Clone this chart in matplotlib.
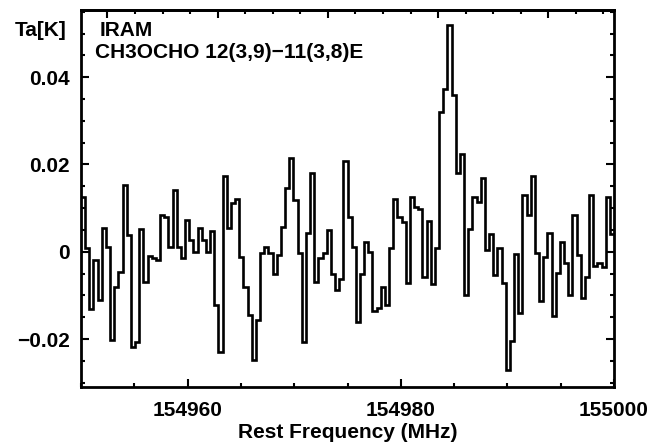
import numpy as np
import matplotlib
matplotlib.use("Agg")
import matplotlib.pyplot as plt
from matplotlib.ticker import MultipleLocator, NullFormatter, FixedFormatter, FixedLocator

# ---------------- data ----------------
freq_start = 154950.0          # MHz, left edge of first channel
chan_width = 0.390625          # MHz
ta_values = [
    0.0126, 0.0008, -0.0132, -0.0018, -0.0110, 0.0054, 0.0011, -0.0203,
    -0.0080, -0.0046, 0.0154, 0.0038, -0.0218, -0.0206, 0.0051, -0.0069,
    -0.0010, -0.0015, -0.0019, 0.0084, 0.0080, 0.0011, 0.0141, 0.0011,
    -0.0015, 0.0073, 0.0027, 0.0000, 0.0054, 0.0027, 0.0000, 0.0047,
    -0.0122, -0.0229, 0.0174, 0.0054, 0.0112, 0.0122, -0.0011, -0.0080,
    -0.0145, -0.0247, -0.0157, -0.0004, 0.0010, -0.0004, -0.0050, -0.0008,
    0.0057, 0.0147, 0.0214, 0.0118, -0.0004, -0.0206, 0.0042, 0.0180,
    -0.0069, -0.0015, -0.0004, 0.0050, -0.0050, -0.0088, -0.0063, 0.0208,
    0.0080, 0.0011, -0.0161, -0.0050, 0.0023, 0.0000, -0.0135, -0.0130,
    -0.0080, -0.0122, 0.0008, 0.0120, 0.0080, 0.0067, -0.0071, 0.0126,
    0.0103, 0.0097, -0.0057, 0.0071, -0.0074, 0.0008, 0.0320, 0.0372,
    0.0520, 0.0359, 0.0181, 0.0223, -0.0099, 0.0051, 0.0125, 0.0115,
    0.0168, 0.0004, 0.0041, -0.0054, 0.0008, -0.0071, -0.0271, -0.0204,
    -0.0005, -0.0140, 0.0131, 0.0084, 0.0174, -0.0004, -0.0112, -0.0011,
    0.0042, -0.0148, -0.0048, 0.0023, -0.0025, -0.0099, 0.0084, -0.0008,
    -0.0107, -0.0059, 0.0130, -0.0033, -0.0025, -0.0036, 0.0125, 0.0041,
]
x_ticks = [154960, 154980, 155000]
x_ticklabels = ["154960", "154980", "155000"]
y_ticks = [-0.02, 0, 0.02, 0.04]
y_ticklabels = ["\u22120.02", "0", "0.02", "0.04"]
xlabel = "Rest Frequency (MHz)"
ylabel = "Ta[K]"
telescope = "IRAM"
line_name = "CH3OCHO 12(3,9)\u221211(3,8)E"
v_ref_freq = 154983.5          # MHz where top (velocity) axis = 0
c_kms = 299792.458

# ---------------- plot ----------------
plt.rcParams['font.family'] = ['Liberation Sans', 'DejaVu Sans']
plt.rcParams['font.weight'] = 'bold'
FS = 15
W, H = 654, 443
fig = plt.figure(figsize=(W / 100, H / 100), dpi=100)
L, R, T, B = 81, 614, 10, 387
ax = fig.add_axes([L / W, 1 - B / H, (R - L) / W, (B - T) / H])

vals = np.array(ta_values)
edges = freq_start + chan_width * np.arange(len(vals) + 1)
ax.stairs(vals, edges, color='black', linewidth=1.9, baseline=None)

ax.set_xlim(154950, 155000)
ax.set_ylim(-0.0310, 0.0554)

ax.xaxis.set_major_locator(FixedLocator(x_ticks))
ax.xaxis.set_major_formatter(FixedFormatter(x_ticklabels))
ax.xaxis.set_minor_locator(MultipleLocator(5))
ax.yaxis.set_major_locator(FixedLocator(y_ticks))
ax.yaxis.set_major_formatter(FixedFormatter(y_ticklabels))
ax.yaxis.set_minor_locator(MultipleLocator(0.005))

ax.tick_params(which='both', direction='in', width=1.5, top=False, right=True,
               labelsize=FS, colors='black')
ax.tick_params(which='major', length=5.5)
ax.tick_params(which='minor', length=3)
ax.tick_params(axis='x', which='major', pad=10)
ax.tick_params(axis='y', which='major', pad=8)
for s in ax.spines.values():
    s.set_linewidth(2)

def f2v(f):
    return (v_ref_freq - f) / v_ref_freq * c_kms

def v2f(v):
    return v_ref_freq - v * v_ref_freq / c_kms

sec = ax.secondary_xaxis('top', functions=(f2v, v2f))
sec.xaxis.set_major_locator(MultipleLocator(20))
sec.xaxis.set_minor_locator(MultipleLocator(5))
sec.xaxis.set_major_formatter(NullFormatter())
sec.tick_params(which='both', direction='in', width=1.5)
sec.tick_params(which='major', length=5.5)
sec.tick_params(which='minor', length=3)
sec.spines['top'].set_linewidth(2)

fig.text(15 / W, 1 - 31 / H, ylabel, fontsize=FS, ha='left', va='center')
fig.text(100 / W, 1 - 30 / H, telescope, fontsize=FS, ha='left', va='center')
fig.text(95 / W, 1 - 52 / H, line_name, fontsize=FS, ha='left', va='center')
fig.text((L + R) / 2 / W, 1 - 432 / H, xlabel, fontsize=FS, ha='center', va='center')

fig.savefig("out.png", dpi=100)
